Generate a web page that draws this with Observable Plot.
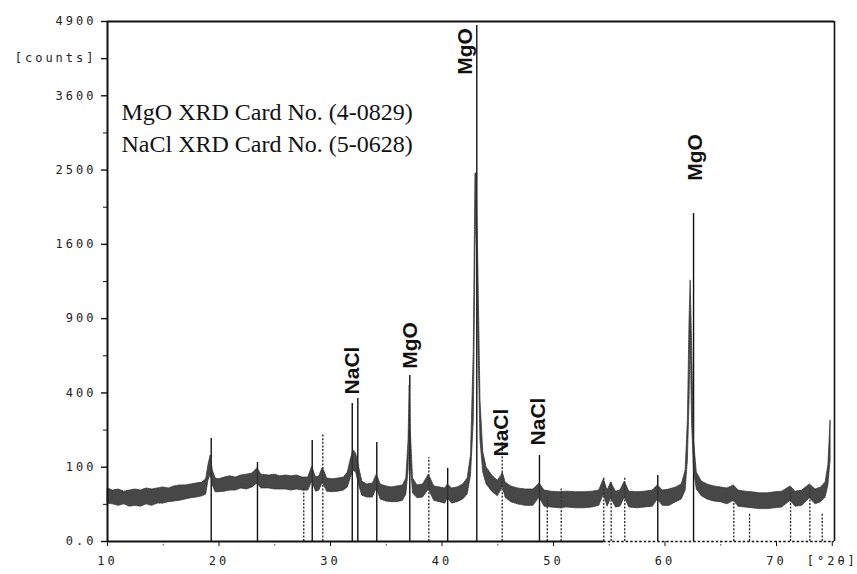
<!DOCTYPE html>
<html><head><meta charset="utf-8">
<script src="https://cdn.jsdelivr.net/npm/d3@7"></script>
<script src="https://cdn.jsdelivr.net/npm/@observablehq/plot@0.6"></script>
<style>
body{margin:0;background:#fff;}
#chart svg{display:block;}
#chart g[aria-label="y-axis tick label"] text,
#chart g[aria-label="x-axis tick label"] text{letter-spacing:3px;}
</style>
</head><body><div id="chart"></div>
<script>
// scan: 2θ positions with upper / lower edge of the noisy counts band
const theta = [10.0,10.5,11.0,11.5,12.0,12.5,13.0,13.5,14.0,14.5,15.0,15.5,16.0,16.5,17.0,17.5,18.0,18.5,18.85,19.05,19.25,19.45,19.7,20.0,20.5,21.0,21.5,22.0,22.5,23.0,23.45,23.8,24.5,25.0,25.5,26.0,26.5,27.0,27.5,28.0,28.36,28.7,29.0,29.31,29.7,30.2,30.7,31.2,31.55,31.8,32.05,32.3,32.55,32.85,33.3,33.8,34.15,34.5,35.0,35.5,36.0,36.5,36.8,37.0,37.1,37.2,37.4,37.8,38.3,38.82,39.3,39.8,40.3,40.51,40.9,41.4,41.9,42.3,42.6,42.85,43.0,43.1,43.25,43.45,43.7,44.0,44.5,45.0,45.3,45.45,45.7,46.2,46.8,47.5,48.2,48.74,49.2,49.8,50.5,51.2,52.0,52.8,53.5,54.1,54.51,54.85,55.17,55.6,56.0,56.39,56.8,57.5,58.2,58.9,59.35,59.8,60.4,61.0,61.5,61.85,62.05,62.2,62.3,62.42,62.6,62.85,63.3,63.8,64.4,65.0,65.6,66.17,66.6,67.2,67.8,68.5,69.2,69.9,70.5,71.26,71.7,72.3,72.99,73.5,74.0,74.4,74.65,74.85];
const countsHigh = [51,47,49,45,47,49,47,51,49,51,53,51,55,57,57,59,61,63,70,105,134,91,72,70,74,77,74,79,81,84,97,81,79,81,77,79,77,79,74,74,102,74,77,99,72,70,72,74,86,119,150,140,102,65,59,61,81,59,55,53,55,57,72,185,441,223,72,57,59,81,55,53,51,59,51,53,59,72,134,661,2453,2453,1431,360,144,99,79,67,77,86,63,55,51,49,49,61,47,45,44,45,44,44,45,47,70,47,63,45,47,65,45,44,45,47,57,47,49,53,59,91,265,885,1234,732,185,86,65,59,55,53,51,57,47,45,44,42,42,44,45,55,45,47,59,49,53,63,105,265];
const countsLow = [26,25,23,25,22,23,22,25,23,26,26,28,29,30,32,34,35,37,40,67,81,57,44,44,45,47,47,51,49,53,61,51,51,49,49,49,47,49,47,47,65,45,47,63,45,44,45,47,53,72,91,86,59,38,35,35,51,32,29,28,28,30,40,91,223,113,42,34,35,49,30,28,26,34,26,28,32,40,79,265,1535,2107,807,185,86,59,45,37,47,55,35,28,25,23,23,35,22,21,20,21,20,20,21,23,40,22,34,21,22,35,21,20,21,22,32,23,23,28,32,47,119,360,807,265,91,49,37,32,29,28,25,30,22,21,20,19,19,20,21,30,22,23,34,25,28,35,57,119];

// reference / peak marker lines
const solidLinePos    = [19.3,23.45,28.36,31.95,32.45,34.15,37.11,40.51,43.12,48.74,59.35,62.56];
const solidLineCounts = [192,113,185,345,371,178,499,97,4825,134,79,1949];
const dashedLinePos    = [27.6,29.31,38.82,45.40,49.44,50.69,54.51,55.17,56.39,66.17,67.58,71.26,72.99,74.10];
const dashedLineCounts = [53,211,128,178,35,51,74,63,74,30,14,47,51,14];

// phase labels
const phaseLabels = ["NaCl","MgO","MgO","NaCl","NaCl","MgO"];
const phaseLabelPos = [31.97,37.17,42.11,45.34,48.65,62.74];
const phaseLabelCounts = [530,696,4351,215,261,2672];

const legendLines = ["MgO XRD Card No. (4-0829)","NaCl XRD Card No. (5-0628)"];

// axes
const xDomain = [10, 75.2];
const yDomain = [0, 4900];
const axisSolidEnd = 54.5;
const yTicks = [0,100,400,900,1600,2500,3600,4225,4900];
const yTickLabels = ["0.0","100","400","900","1600","2500","3600","[counts]","4900"];
const yMinorTicks = [25,225,625,1225,2025,3025];
const xTicks = [10,20,30,40,50,60,70,75];
const xTickLabels = ["10","20","30","40","50","60","70","[°2θ]"];
const xMinorTicks = [15,25,35,45,55,65];

const yLab = new Map(yTicks.map((d,i)=>[d,yTickLabels[i]]));
const xLab = new Map(xTicks.map((d,i)=>[d,xTickLabels[i]]));
const scanIdx = d3.range(theta.length);
const sIdx = d3.range(solidLinePos.length);
const dIdx = d3.range(dashedLinePos.length);
const pIdx = d3.range(phaseLabels.length);
const mono = "DejaVu Sans Mono";

const chart = Plot.plot({
  width: 857, height: 574,
  marginLeft: 107, marginRight: 23, marginTop: 21, marginBottom: 33,
  style: {background: "#fff", color: "#222"},
  x: {domain: xDomain, label: null},
  y: {type: "sqrt", domain: yDomain, label: null},
  marks: [
    Plot.axisY(yTicks, {anchor: "left", label: null, tickSize: 6, tickPadding: 5, tickFormat: d => yLab.get(d), fontFamily: mono, fontSize: 12, stroke: "#111", strokeWidth: 1.4}),
    Plot.axisY(yMinorTicks, {anchor: "left", label: null, tickSize: 4, tickFormat: () => "", stroke: "#111"}),
    Plot.axisX(xTicks, {anchor: "bottom", label: null, tickSize: 5, tickPadding: 10, tickFormat: d => xLab.get(d), fontFamily: mono, fontSize: 12, stroke: "#111"}),
    Plot.axisX(xMinorTicks, {anchor: "bottom", label: null, tickSize: 6, tickFormat: () => "", stroke: "#444", strokeDasharray: "1.5,1.5"}),
    // card / peak marker lines
    Plot.ruleX(dIdx, {x: i => dashedLinePos[i], y1: () => 0, y2: i => dashedLineCounts[i], stroke: "#222", strokeWidth: 1.3, strokeDasharray: "2,1.6"}),
    Plot.ruleX(sIdx, {x: i => solidLinePos[i], y1: () => 0, y2: i => solidLineCounts[i], stroke: "#111", strokeWidth: 1.4}),
    // scan band
    Plot.areaY(scanIdx, {x: i => theta[i], y1: i => countsLow[i], y2: i => countsHigh[i], fill: "#333", fillOpacity: 0.9, stroke: "#2e2e2e", strokeWidth: 0.8, strokeDasharray: "1.5,1"}),
    // frame
    Plot.ruleX([xDomain[0]], {stroke: "#111", strokeWidth: 2}),
    Plot.ruleX([xDomain[1]], {stroke: "#111", strokeWidth: 1.6}),
    Plot.ruleY([yDomain[1]], {stroke: "#111", strokeWidth: 1.8}),
    Plot.ruleY([{y: 0, a: xDomain[0], b: axisSolidEnd}], {y: "y", x1: "a", x2: "b", stroke: "#111", strokeWidth: 1.8}),
    Plot.ruleY([{y: 0, a: axisSolidEnd, b: xDomain[1]}], {y: "y", x1: "a", x2: "b", stroke: "#111", strokeWidth: 1.5, strokeDasharray: "2.5,2"}),
    // phase labels
    Plot.text(pIdx, {x: i => phaseLabelPos[i], y: i => phaseLabelCounts[i], text: i => phaseLabels[i], rotate: -90, textAnchor: "middle", lineAnchor: "middle", fontSize: 21, fontWeight: "bold", fontFamily: "Liberation Sans", fill: "#111"}),
    // legend text
    Plot.text([legendLines.join("\n")], {frameAnchor: "top-left", dx: 14, dy: 76, textAnchor: "start", lineAnchor: "top", lineHeight: 1.34, fontSize: 24, fontFamily: "Liberation Serif", fill: "#111"})
  ]
});
document.getElementById("chart").appendChild(chart);
</script>
</body></html>
